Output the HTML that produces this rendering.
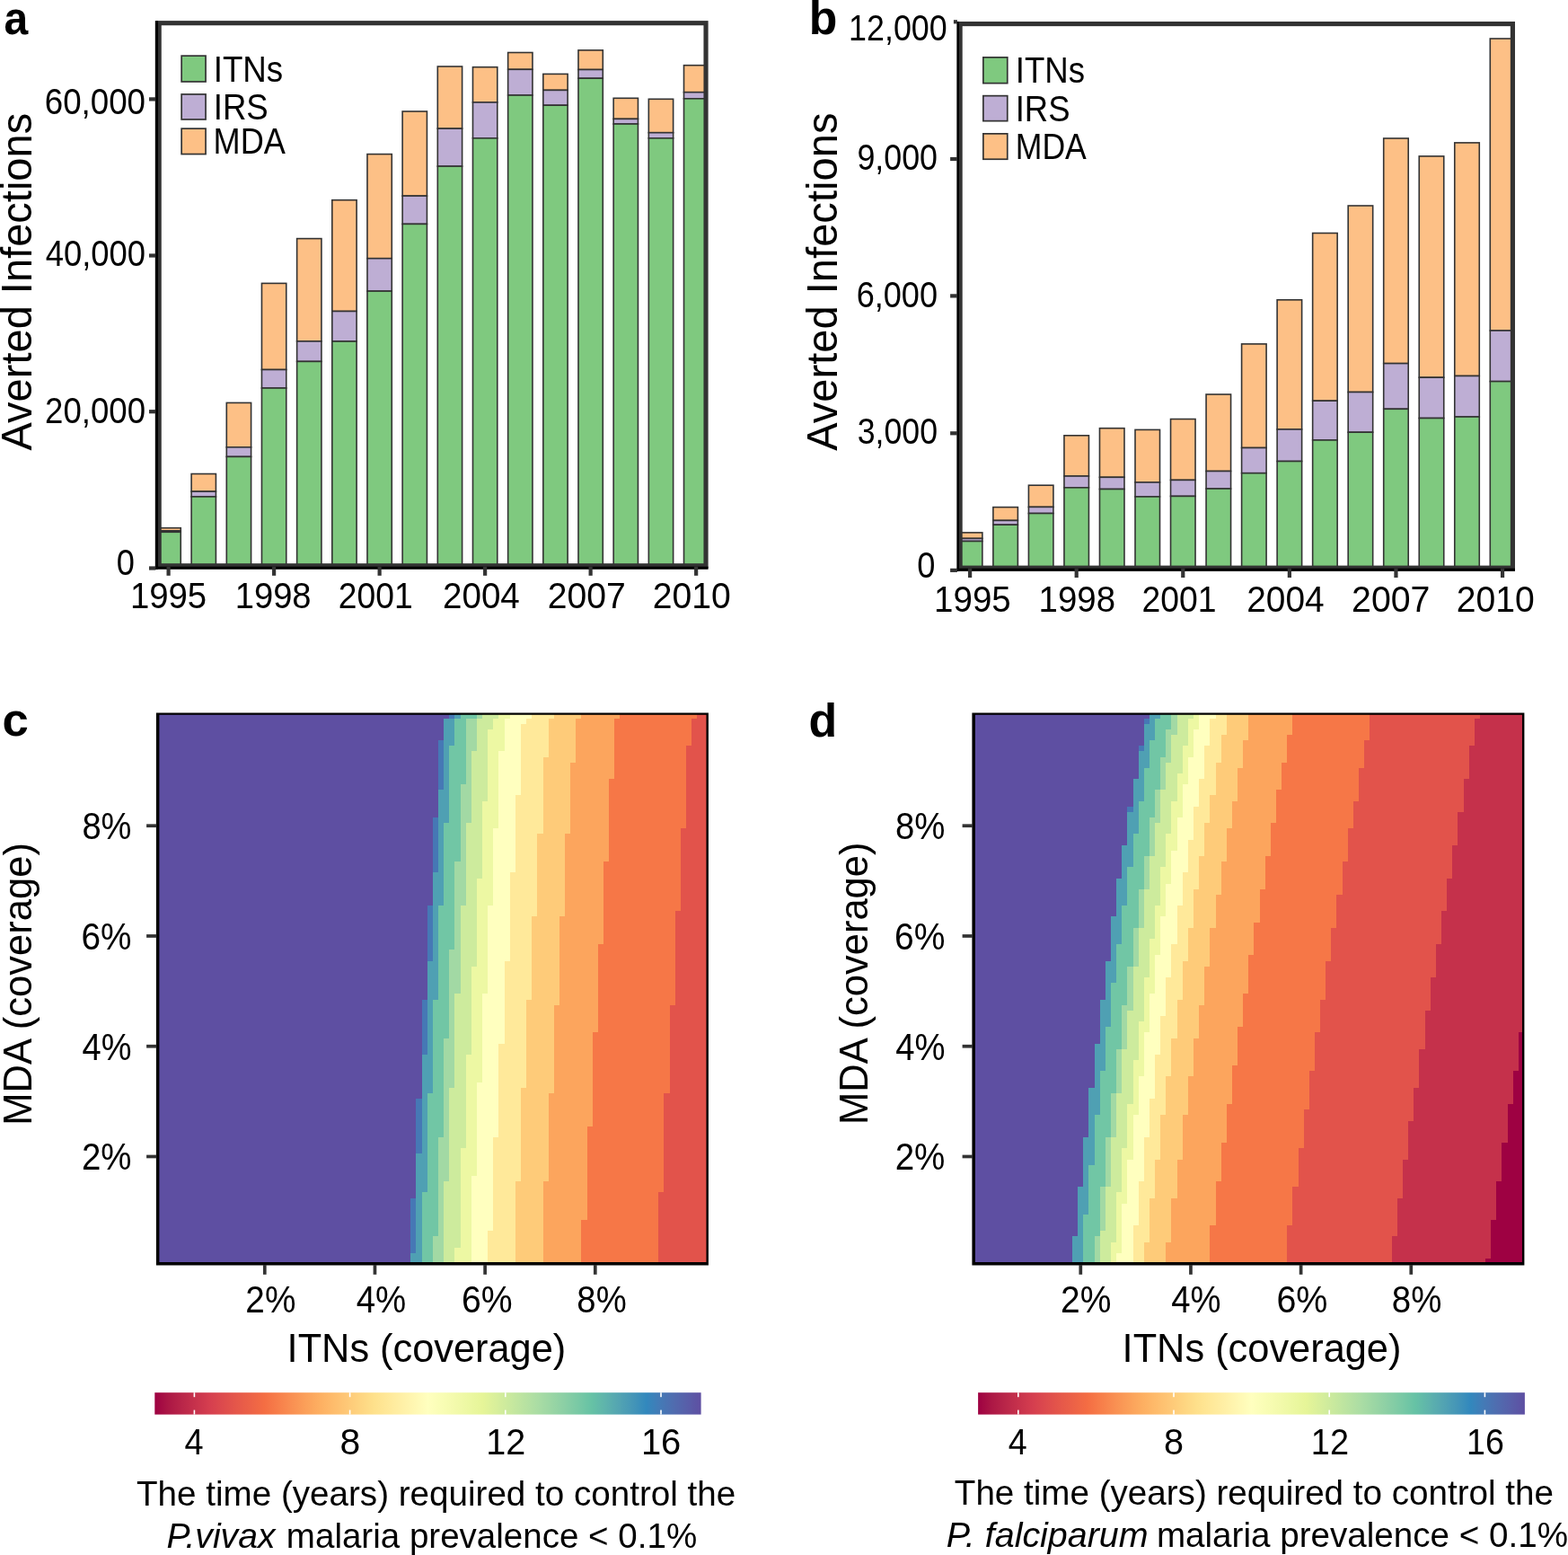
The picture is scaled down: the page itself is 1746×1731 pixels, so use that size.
<!DOCTYPE html>
<html lang="en"><head><meta charset="utf-8"><title>Figure</title>
<style>html,body{margin:0;padding:0;background:#fff}svg{display:block}text{white-space:pre}</style>
</head><body>
<svg width="1746" height="1731" viewBox="0 0 1746 1731" font-family='"Liberation Sans", sans-serif' fill="#000">
<rect width="1746" height="1731" fill="#fff"/>
<clipPath id="clipa"><rect x="177.18" y="25.68" width="608.85" height="604.1"/></clipPath>
<g clip-path="url(#clipa)" stroke="#333333" stroke-width="1.6">
<rect x="173.95" y="587.7" width="27.3" height="3.1" fill="#FDC086"/>
<rect x="173.95" y="590.8" width="27.3" height="1.5" fill="#BEAED4"/>
<rect x="173.95" y="592.3" width="27.3" height="40.1" fill="#7FC97F"/>
<rect x="213.12" y="527.5" width="27.3" height="19.6" fill="#FDC086"/>
<rect x="213.12" y="547.1" width="27.3" height="5.8" fill="#BEAED4"/>
<rect x="213.12" y="552.9" width="27.3" height="79.5" fill="#7FC97F"/>
<rect x="252.29" y="448.4" width="27.3" height="49.4" fill="#FDC086"/>
<rect x="252.29" y="497.8" width="27.3" height="10.6" fill="#BEAED4"/>
<rect x="252.29" y="508.4" width="27.3" height="124" fill="#7FC97F"/>
<rect x="291.46" y="315.4" width="27.3" height="96.1" fill="#FDC086"/>
<rect x="291.46" y="411.5" width="27.3" height="20.5" fill="#BEAED4"/>
<rect x="291.46" y="432" width="27.3" height="200.4" fill="#7FC97F"/>
<rect x="330.63" y="265.6" width="27.3" height="114.3" fill="#FDC086"/>
<rect x="330.63" y="379.9" width="27.3" height="22.5" fill="#BEAED4"/>
<rect x="330.63" y="402.4" width="27.3" height="230" fill="#7FC97F"/>
<rect x="369.8" y="222.7" width="27.3" height="123.8" fill="#FDC086"/>
<rect x="369.8" y="346.5" width="27.3" height="33.5" fill="#BEAED4"/>
<rect x="369.8" y="380" width="27.3" height="252.4" fill="#7FC97F"/>
<rect x="408.97" y="171.6" width="27.3" height="116.1" fill="#FDC086"/>
<rect x="408.97" y="287.7" width="27.3" height="36.4" fill="#BEAED4"/>
<rect x="408.97" y="324.1" width="27.3" height="308.3" fill="#7FC97F"/>
<rect x="448.14" y="124" width="27.3" height="94.1" fill="#FDC086"/>
<rect x="448.14" y="218.1" width="27.3" height="31.3" fill="#BEAED4"/>
<rect x="448.14" y="249.4" width="27.3" height="383" fill="#7FC97F"/>
<rect x="487.31" y="74" width="27.3" height="69.1" fill="#FDC086"/>
<rect x="487.31" y="143.1" width="27.3" height="42" fill="#BEAED4"/>
<rect x="487.31" y="185.1" width="27.3" height="447.3" fill="#7FC97F"/>
<rect x="526.48" y="74.7" width="27.3" height="39.2" fill="#FDC086"/>
<rect x="526.48" y="113.9" width="27.3" height="39.9" fill="#BEAED4"/>
<rect x="526.48" y="153.8" width="27.3" height="478.6" fill="#7FC97F"/>
<rect x="565.65" y="58.5" width="27.3" height="18.8" fill="#FDC086"/>
<rect x="565.65" y="77.3" width="27.3" height="28.7" fill="#BEAED4"/>
<rect x="565.65" y="106" width="27.3" height="526.4" fill="#7FC97F"/>
<rect x="604.82" y="82.4" width="27.3" height="18" fill="#FDC086"/>
<rect x="604.82" y="100.4" width="27.3" height="16.8" fill="#BEAED4"/>
<rect x="604.82" y="117.2" width="27.3" height="515.2" fill="#7FC97F"/>
<rect x="643.99" y="55.9" width="27.3" height="21.6" fill="#FDC086"/>
<rect x="643.99" y="77.5" width="27.3" height="9.7" fill="#BEAED4"/>
<rect x="643.99" y="87.2" width="27.3" height="545.2" fill="#7FC97F"/>
<rect x="683.16" y="109.3" width="27.3" height="23.1" fill="#FDC086"/>
<rect x="683.16" y="132.4" width="27.3" height="5.6" fill="#BEAED4"/>
<rect x="683.16" y="138" width="27.3" height="494.4" fill="#7FC97F"/>
<rect x="722.33" y="110.3" width="27.3" height="37.4" fill="#FDC086"/>
<rect x="722.33" y="147.7" width="27.3" height="6.1" fill="#BEAED4"/>
<rect x="722.33" y="153.8" width="27.3" height="478.6" fill="#7FC97F"/>
<rect x="761.5" y="72.7" width="27.3" height="30" fill="#FDC086"/>
<rect x="761.5" y="102.7" width="27.3" height="7.1" fill="#BEAED4"/>
<rect x="761.5" y="109.8" width="27.3" height="522.6" fill="#7FC97F"/>
</g>
<rect x="177.18" y="25.68" width="608.85" height="604.1" fill="none" stroke="#333333" stroke-width="5.15"/>
<rect x="172.8" y="23.1" width="3.2" height="610.7" fill="#000"/>
<rect x="172.8" y="630.7" width="615.8" height="3.1" fill="#000"/>
<rect x="185.5" y="630.7" width="4.2" height="10.1" fill="#333333"/>
<text transform="translate(144.92 677.4) scale(0.9537 1)" font-size="40.2">1995</text>
<rect x="303.01" y="630.7" width="4.2" height="10.1" fill="#333333"/>
<text transform="translate(261.74 677.4) scale(0.9489 1)" font-size="40.2">1998</text>
<rect x="420.52" y="630.7" width="4.2" height="10.1" fill="#333333"/>
<text transform="translate(376.74 677.4) scale(0.9271 1)" font-size="40.2">2001</text>
<rect x="538.03" y="630.7" width="4.2" height="10.1" fill="#333333"/>
<text transform="translate(492.97 677.4) scale(0.9602 1)" font-size="40.2">2004</text>
<rect x="655.54" y="630.7" width="4.2" height="10.1" fill="#333333"/>
<text transform="translate(609.84 677.4) scale(0.9739 1)" font-size="40.2">2007</text>
<rect x="773.05" y="630.7" width="4.2" height="10.1" fill="#333333"/>
<text transform="translate(726.64 677.4) scale(0.9741 1)" font-size="40.2">2010</text>
<rect x="166" y="630.4" width="7.4" height="4.2" fill="#333333"/>
<text transform="translate(129.85 640.4) scale(0.8730 1)" font-size="41.5">0</text>
<rect x="166" y="456.1" width="7.4" height="4.2" fill="#333333"/>
<text transform="translate(50.07 470.8) scale(0.8827 1)" font-size="41.5">20,000</text>
<rect x="166" y="282.4" width="7.4" height="4.2" fill="#333333"/>
<text transform="translate(50.73 296.4) scale(0.8774 1)" font-size="41.5">40,000</text>
<rect x="166" y="108.3" width="7.4" height="4.2" fill="#333333"/>
<text transform="translate(49.71 127.1) scale(0.8856 1)" font-size="41.5">60,000</text>
<text transform="translate(35.1 501.42) rotate(-90) scale(0.9760 1)" font-size="48.2">Averted Infections</text>
<rect x="202.15" y="62.15" width="26.9" height="28.8" fill="#7FC97F" stroke="#333333" stroke-width="1.7"/>
<text transform="translate(237.7 91) scale(0.9112 1)" font-size="40.3">ITNs</text>
<rect x="202.15" y="104.95" width="26.9" height="28" fill="#BEAED4" stroke="#333333" stroke-width="1.7"/>
<text transform="translate(237.71 133.25) scale(0.9081 1)" font-size="40.3">IRS</text>
<rect x="202.15" y="143.15" width="26.9" height="28.4" fill="#FDC086" stroke="#333333" stroke-width="1.7"/>
<text transform="translate(237.52 171.2) scale(0.8974 1)" font-size="40.3">MDA</text>
<text transform="translate(4.46 37.7) scale(0.9245 1)" font-size="52" font-weight="bold">a</text>
<clipPath id="clipb"><rect x="1069.12" y="26.57" width="615.3" height="605.6"/></clipPath>
<g clip-path="url(#clipb)" stroke="#333333" stroke-width="1.6">
<rect x="1066.35" y="592.9" width="27.5" height="6.5" fill="#FDC086"/>
<rect x="1066.35" y="599.4" width="27.5" height="3.1" fill="#BEAED4"/>
<rect x="1066.35" y="602.5" width="27.5" height="32" fill="#7FC97F"/>
<rect x="1105.88" y="564.6" width="27.5" height="14.8" fill="#FDC086"/>
<rect x="1105.88" y="579.4" width="27.5" height="4.8" fill="#BEAED4"/>
<rect x="1105.88" y="584.2" width="27.5" height="50.3" fill="#7FC97F"/>
<rect x="1145.41" y="540.2" width="27.5" height="24.2" fill="#FDC086"/>
<rect x="1145.41" y="564.4" width="27.5" height="7.1" fill="#BEAED4"/>
<rect x="1145.41" y="571.5" width="27.5" height="63" fill="#7FC97F"/>
<rect x="1184.94" y="484.8" width="27.5" height="45.2" fill="#FDC086"/>
<rect x="1184.94" y="530" width="27.5" height="12.8" fill="#BEAED4"/>
<rect x="1184.94" y="542.8" width="27.5" height="91.7" fill="#7FC97F"/>
<rect x="1224.47" y="476.7" width="27.5" height="54.6" fill="#FDC086"/>
<rect x="1224.47" y="531.3" width="27.5" height="13.2" fill="#BEAED4"/>
<rect x="1224.47" y="544.5" width="27.5" height="90" fill="#7FC97F"/>
<rect x="1264" y="478.4" width="27.5" height="58.5" fill="#FDC086"/>
<rect x="1264" y="536.9" width="27.5" height="16" fill="#BEAED4"/>
<rect x="1264" y="552.9" width="27.5" height="81.6" fill="#7FC97F"/>
<rect x="1303.53" y="466.5" width="27.5" height="67.9" fill="#FDC086"/>
<rect x="1303.53" y="534.4" width="27.5" height="18" fill="#BEAED4"/>
<rect x="1303.53" y="552.4" width="27.5" height="82.1" fill="#7FC97F"/>
<rect x="1343.06" y="439" width="27.5" height="85.5" fill="#FDC086"/>
<rect x="1343.06" y="524.5" width="27.5" height="19.5" fill="#BEAED4"/>
<rect x="1343.06" y="544" width="27.5" height="90.5" fill="#7FC97F"/>
<rect x="1382.59" y="382.9" width="27.5" height="115.6" fill="#FDC086"/>
<rect x="1382.59" y="498.5" width="27.5" height="28.2" fill="#BEAED4"/>
<rect x="1382.59" y="526.7" width="27.5" height="107.8" fill="#7FC97F"/>
<rect x="1422.12" y="333.8" width="27.5" height="144.1" fill="#FDC086"/>
<rect x="1422.12" y="477.9" width="27.5" height="35.6" fill="#BEAED4"/>
<rect x="1422.12" y="513.5" width="27.5" height="121" fill="#7FC97F"/>
<rect x="1461.65" y="259.5" width="27.5" height="186.7" fill="#FDC086"/>
<rect x="1461.65" y="446.2" width="27.5" height="43.7" fill="#BEAED4"/>
<rect x="1461.65" y="489.9" width="27.5" height="144.6" fill="#7FC97F"/>
<rect x="1501.18" y="229" width="27.5" height="207.5" fill="#FDC086"/>
<rect x="1501.18" y="436.5" width="27.5" height="44.7" fill="#BEAED4"/>
<rect x="1501.18" y="481.2" width="27.5" height="153.3" fill="#7FC97F"/>
<rect x="1540.71" y="154" width="27.5" height="250.6" fill="#FDC086"/>
<rect x="1540.71" y="404.6" width="27.5" height="50.7" fill="#BEAED4"/>
<rect x="1540.71" y="455.3" width="27.5" height="179.2" fill="#7FC97F"/>
<rect x="1580.24" y="173.9" width="27.5" height="246.3" fill="#FDC086"/>
<rect x="1580.24" y="420.2" width="27.5" height="45.3" fill="#BEAED4"/>
<rect x="1580.24" y="465.5" width="27.5" height="169" fill="#7FC97F"/>
<rect x="1619.77" y="158.9" width="27.5" height="259.6" fill="#FDC086"/>
<rect x="1619.77" y="418.5" width="27.5" height="45.5" fill="#BEAED4"/>
<rect x="1619.77" y="464" width="27.5" height="170.5" fill="#7FC97F"/>
<rect x="1659.3" y="43" width="27.5" height="325" fill="#FDC086"/>
<rect x="1659.3" y="368" width="27.5" height="56.6" fill="#BEAED4"/>
<rect x="1659.3" y="424.6" width="27.5" height="209.9" fill="#7FC97F"/>
</g>
<rect x="1069.12" y="26.57" width="615.3" height="605.6" fill="none" stroke="#333333" stroke-width="5.15"/>
<rect x="1065.35" y="24" width="2.6" height="611.9" fill="#000"/>
<rect x="1065.35" y="632.7" width="621.65" height="3.2" fill="#000"/>
<rect x="1078" y="632.7" width="4.2" height="10.3" fill="#333333"/>
<text transform="translate(1040.11 680.6) scale(0.9573 1)" font-size="40.2">1995</text>
<rect x="1196.59" y="632.7" width="4.2" height="10.3" fill="#333333"/>
<text transform="translate(1156.62 680.6) scale(0.9548 1)" font-size="40.2">1998</text>
<rect x="1315.18" y="632.7" width="4.2" height="10.3" fill="#333333"/>
<text transform="translate(1271.53 680.6) scale(0.9283 1)" font-size="40.2">2001</text>
<rect x="1433.77" y="632.7" width="4.2" height="10.3" fill="#333333"/>
<text transform="translate(1388.26 680.6) scale(0.9660 1)" font-size="40.2">2004</text>
<rect x="1552.36" y="632.7" width="4.2" height="10.3" fill="#333333"/>
<text transform="translate(1505.04 680.6) scale(0.9774 1)" font-size="40.2">2007</text>
<rect x="1670.95" y="632.7" width="4.2" height="10.3" fill="#333333"/>
<text transform="translate(1621.64 680.6) scale(0.9741 1)" font-size="40.2">2010</text>
<rect x="1058.1" y="632.75" width="7.85" height="4.2" fill="#333333"/>
<text transform="translate(1021.15 642.6) scale(0.8730 1)" font-size="41.5">0</text>
<rect x="1058.1" y="480.2" width="7.85" height="4.2" fill="#333333"/>
<text transform="translate(954.76 494.4) scale(0.8596 1)" font-size="41.5">3,000</text>
<rect x="1058.1" y="327.3" width="7.85" height="4.2" fill="#333333"/>
<text transform="translate(953.69 341.8) scale(0.8701 1)" font-size="41.5">6,000</text>
<rect x="1058.1" y="174.9" width="7.85" height="4.2" fill="#333333"/>
<text transform="translate(954.4 189.2) scale(0.8632 1)" font-size="41.5">9,000</text>
<rect x="1061.9" y="22.2" width="4.05" height="4.2" fill="#333333"/>
<text transform="translate(945.11 45) scale(0.8632 1)" font-size="41.5">12,000</text>
<text transform="translate(931.8 501.82) rotate(-90) scale(0.9776 1)" font-size="48.2">Averted Infections</text>
<rect x="1094.85" y="63.85" width="26.9" height="28.8" fill="#7FC97F" stroke="#333333" stroke-width="1.7"/>
<text transform="translate(1130.71 92.1) scale(0.9093 1)" font-size="40.3">ITNs</text>
<rect x="1094.85" y="106.65" width="26.9" height="28" fill="#BEAED4" stroke="#333333" stroke-width="1.7"/>
<text transform="translate(1130.72 135) scale(0.9056 1)" font-size="40.3">IRS</text>
<rect x="1094.85" y="148.85" width="26.9" height="28.4" fill="#FDC086" stroke="#333333" stroke-width="1.7"/>
<text transform="translate(1130.76 177.3) scale(0.8834 1)" font-size="40.3">MDA</text>
<text transform="translate(900.74 37.7) scale(0.9939 1)" font-size="52" font-weight="bold">b</text>
<g shape-rendering="crispEdges">
<rect x="174.9" y="794.5" width="613" height="613" fill="#5E4FA2"/>
<path d="M787.9 1407.5H457.32V1333.5H463.45V1223.03H469.58V1112.55H475.72V1008.21H481.85V910.01H487.98V824.09H494.12V799.54H500.25V794.5H787.9Z" fill="#4678B5"/>
<path d="M787.9 1407.5H457.32V1394.88H463.45V1284.4H469.58V1173.92H475.72V1069.59H481.85V971.39H487.98V879.33H494.12V799.54H506.38V794.5H787.9Z" fill="#4FA0B3"/>
<path d="M787.9 1407.5H469.58V1327.36H475.72V1216.89H481.85V1112.55H487.98V1008.21H494.12V916.15H500.25V830.23H506.38V799.54H512.51V794.5H787.9Z" fill="#71C6A5"/>
<path d="M787.9 1407.5H481.85V1376.46H487.98V1265.99H494.12V1155.51H500.25V1057.31H506.38V959.11H512.51V873.19H518.65V799.54H530.91V794.5H787.9Z" fill="#A2D9A4"/>
<path d="M787.9 1407.5H494.12V1315.09H500.25V1210.75H506.38V1106.41H512.51V1008.21H518.65V916.15H524.78V836.36H530.91V799.54H537.05V794.5H787.9Z" fill="#CDEB9D"/>
<path d="M787.9 1407.5H506.38V1388.74H512.51V1278.26H518.65V1173.92H524.78V1075.72H530.91V977.53H537.05V891.6H543.18V811.81H549.31V799.54H555.45V794.5H787.9Z" fill="#EDF8A3"/>
<path d="M787.9 1407.5H524.78V1308.95H530.91V1204.61H537.05V1106.41H543.18V1008.21H549.31V922.29H555.45V836.36H561.58V799.54H567.71V794.5H787.9Z" fill="#FFFFBF"/>
<path d="M787.9 1407.5H543.18V1370.33H549.31V1265.99H555.45V1161.65H561.58V1069.59H567.71V971.39H573.84V885.46H579.98V805.67H586.11V799.54H592.24V794.5H787.9Z" fill="#FFE99A"/>
<path d="M787.9 1407.5H573.84V1315.09H579.98V1210.75H586.11V1112.55H592.24V1020.49H598.38V928.42H604.51V842.5H610.64V799.54H616.78V794.5H787.9Z" fill="#FECB79"/>
<path d="M787.9 1407.5H604.51V1315.09H610.64V1216.89H616.78V1118.69H622.91V1020.49H629.04V928.42H635.17V848.64H641.31V799.54H647.44V794.5H787.9Z" fill="#FCA55D"/>
<path d="M787.9 1407.5H647.44V1358.05H653.57V1253.71H659.71V1149.38H665.84V1051.17H671.97V959.11H678.11V867.05H684.24V799.54H690.37V794.5H787.9Z" fill="#F67747"/>
<path d="M787.9 1407.5H733.3V1327.36H739.44V1216.89H745.57V1118.69H751.7V1014.35H757.83V922.29H763.97V830.23H770.1V799.54H776.23V794.5H787.9Z" fill="#E2534B"/>
</g>
<path fill-rule="evenodd" fill="#000" d="M173.9 793.5H788.9V1408.5H173.9Z M177.4 795.8V1405H786.45V795.8Z"/>
<rect x="292.94" y="1408" width="3.7" height="10.8" fill="#333333"/>
<text transform="translate(273.36 1460.6) scale(0.9117 1)" font-size="42.5">2%</text>
<rect x="163.1" y="1285.62" width="11.3" height="3.7" fill="#333333"/>
<text transform="translate(90.88 1302.27) scale(0.9048 1)" font-size="42.5">2%</text>
<rect x="415.6" y="1408" width="3.7" height="10.8" fill="#333333"/>
<text transform="translate(396.74 1460.6) scale(0.9030 1)" font-size="42.5">4%</text>
<rect x="163.1" y="1162.87" width="11.3" height="3.7" fill="#333333"/>
<text transform="translate(91.55 1179.52) scale(0.8936 1)" font-size="42.5">4%</text>
<rect x="538.26" y="1408" width="3.7" height="10.8" fill="#333333"/>
<text transform="translate(514.04 1460.6) scale(0.9221 1)" font-size="42.5">6%</text>
<rect x="163.1" y="1040.12" width="11.3" height="3.7" fill="#333333"/>
<text transform="translate(90.46 1056.77) scale(0.9117 1)" font-size="42.5">6%</text>
<rect x="660.92" y="1408" width="3.7" height="10.8" fill="#333333"/>
<text transform="translate(642.37 1460.6) scale(0.8998 1)" font-size="42.5">8%</text>
<rect x="163.1" y="917.37" width="11.3" height="3.7" fill="#333333"/>
<text transform="translate(91.38 934.02) scale(0.8964 1)" font-size="42.5">8%</text>
<text transform="translate(319.59 1516.2) scale(0.9898 1)" font-size="43.8">ITNs (coverage)</text>
<text transform="translate(35.4 1252.69) rotate(-90) scale(0.9948 1)" font-size="43.8">MDA (coverage)</text>
<text transform="translate(2.49 818.9) scale(1.0138 1)" font-size="52" font-weight="bold">c</text>
<linearGradient id="gradc" x1="0" x2="1" y1="0" y2="0"><stop offset="0%" stop-color="#9E0142"/><stop offset="2.5%" stop-color="#AC1745"/><stop offset="5%" stop-color="#B92649"/><stop offset="7.5%" stop-color="#C7324C"/><stop offset="10%" stop-color="#D53E4F"/><stop offset="12.5%" stop-color="#DD4B4D"/><stop offset="15%" stop-color="#E5574A"/><stop offset="17.5%" stop-color="#EC6247"/><stop offset="20%" stop-color="#F46D43"/><stop offset="22.5%" stop-color="#F77E4A"/><stop offset="25%" stop-color="#F98F52"/><stop offset="27.5%" stop-color="#FB9F59"/><stop offset="30%" stop-color="#FDAE61"/><stop offset="32.5%" stop-color="#FEBB6B"/><stop offset="35%" stop-color="#FEC776"/><stop offset="37.5%" stop-color="#FED480"/><stop offset="40%" stop-color="#FEE08B"/><stop offset="42.5%" stop-color="#FFE898"/><stop offset="45%" stop-color="#FFEFA5"/><stop offset="47.5%" stop-color="#FFF7B2"/><stop offset="50%" stop-color="#FFFFBF"/><stop offset="52.5%" stop-color="#F9FDB5"/><stop offset="55%" stop-color="#F3FAAC"/><stop offset="57.5%" stop-color="#ECF8A2"/><stop offset="60%" stop-color="#E6F598"/><stop offset="62.5%" stop-color="#D8EF9B"/><stop offset="65%" stop-color="#C9E99E"/><stop offset="67.5%" stop-color="#BAE3A1"/><stop offset="70%" stop-color="#ABDDA4"/><stop offset="72.5%" stop-color="#9BD6A4"/><stop offset="75%" stop-color="#8BCFA5"/><stop offset="77.5%" stop-color="#79C9A5"/><stop offset="80%" stop-color="#66C2A5"/><stop offset="82.5%" stop-color="#5EB3AC"/><stop offset="85%" stop-color="#53A4B2"/><stop offset="87.5%" stop-color="#4596B7"/><stop offset="90%" stop-color="#3288BD"/><stop offset="92.5%" stop-color="#447AB6"/><stop offset="95%" stop-color="#506CAF"/><stop offset="97.5%" stop-color="#585EA9"/><stop offset="100%" stop-color="#5E4FA2"/></linearGradient>
<rect x="172.3" y="1550.2" width="608.3" height="24.4" fill="url(#gradc)"/>
<rect x="215.6" y="1550.2" width="1.6" height="5" fill="#fff"/>
<rect x="215.6" y="1569.6" width="1.6" height="5" fill="#fff"/>
<text transform="translate(205.5 1618.5) scale(0.9480 1)" font-size="40">4</text>
<rect x="388.8" y="1550.2" width="1.6" height="5" fill="#fff"/>
<rect x="388.8" y="1569.6" width="1.6" height="5" fill="#fff"/>
<text transform="translate(378.46 1618.5) scale(1.0213 1)" font-size="40">8</text>
<rect x="562" y="1550.2" width="1.6" height="5" fill="#fff"/>
<rect x="562" y="1569.6" width="1.6" height="5" fill="#fff"/>
<text transform="translate(541.33 1618.5) scale(0.9898 1)" font-size="40">12</text>
<rect x="735.2" y="1550.2" width="1.6" height="5" fill="#fff"/>
<rect x="735.2" y="1569.6" width="1.6" height="5" fill="#fff"/>
<text transform="translate(713.91 1618.5) scale(0.9975 1)" font-size="40">16</text>
<text transform="translate(152.03 1676) scale(1.0002 1)" font-size="38.6">The time (years) required to control the</text>
<text transform="translate(185.43 1722.8) scale(1.0137 1)" font-size="38.6" font-style="italic">P.vivax</text>
<text transform="translate(318.85 1722.8) scale(0.9985 1)" font-size="38.6">malaria prevalence &lt; 0.1%</text>
<g shape-rendering="crispEdges">
<rect x="1083.4" y="794.5" width="613" height="613" fill="#5E4FA2"/>
<path d="M1696.4 1407.5H1194.09V1376.46H1200.23V1321.23H1206.36V1265.99H1212.49V1210.75H1218.63V1161.65H1224.76V1112.55H1230.89V1069.59H1237.03V1020.49H1243.16V977.53H1249.29V940.7H1255.42V897.74H1261.56V867.05H1267.69V830.23H1273.82V799.54H1279.96V794.5H1696.4Z" fill="#4678B5"/>
<path d="M1696.4 1407.5H1194.09V1376.46H1200.23V1321.23H1206.36V1265.99H1212.49V1210.75H1218.63V1161.65H1224.76V1112.55H1230.89V1069.59H1237.03V1020.49H1243.16V977.53H1249.29V940.7H1255.42V903.88H1261.56V867.05H1267.69V836.36H1273.82V805.67H1279.96V794.5H1696.4Z" fill="#4FA0B3"/>
<path d="M1696.4 1407.5H1206.36V1351.91H1212.49V1296.68H1218.63V1241.44H1224.76V1192.34H1230.89V1143.24H1237.03V1094.14H1243.16V1051.17H1249.29V1008.21H1255.42V965.25H1261.56V928.42H1267.69V891.6H1273.82V854.77H1279.96V824.09H1286.09V799.54H1292.22V794.5H1696.4Z" fill="#71C6A5"/>
<path d="M1696.4 1407.5H1218.63V1376.46H1224.76V1321.23H1230.89V1265.99H1237.03V1216.89H1243.16V1167.79H1249.29V1118.69H1255.42V1075.72H1261.56V1032.76H1267.69V989.8H1273.82V952.98H1279.96V910.01H1286.09V879.33H1292.22V842.5H1298.36V811.81H1304.49V794.5H1696.4Z" fill="#A2D9A4"/>
<path d="M1696.4 1407.5H1224.76V1370.33H1230.89V1321.23H1237.03V1265.99H1243.16V1216.89H1249.29V1167.79H1255.42V1124.83H1261.56V1075.72H1267.69V1032.76H1273.82V989.8H1279.96V952.98H1286.09V916.15H1292.22V879.33H1298.36V848.64H1304.49V817.95H1310.62V794.5H1696.4Z" fill="#CDEB9D"/>
<path d="M1696.4 1407.5H1237.03V1382.6H1243.16V1327.36H1249.29V1278.26H1255.42V1229.16H1261.56V1180.06H1267.69V1137.1H1273.82V1088H1279.96V1045.04H1286.09V1008.21H1292.22V965.25H1298.36V928.42H1304.49V891.6H1310.62V860.91H1316.75V830.23H1322.89V799.54H1329.02V794.5H1696.4Z" fill="#EDF8A3"/>
<path d="M1696.4 1407.5H1243.16V1394.88H1249.29V1339.64H1255.42V1290.54H1261.56V1241.44H1267.69V1198.48H1273.82V1149.38H1279.96V1106.41H1286.09V1063.45H1292.22V1020.49H1298.36V983.66H1304.49V946.84H1310.62V910.01H1316.75V873.19H1322.89V842.5H1329.02V811.81H1335.15V794.5H1696.4Z" fill="#FFFFBF"/>
<path d="M1696.4 1407.5H1261.56V1364.19H1267.69V1315.09H1273.82V1265.99H1279.96V1223.03H1286.09V1173.92H1292.22V1130.96H1298.36V1088H1304.49V1051.17H1310.62V1008.21H1316.75V971.39H1322.89V934.56H1329.02V897.74H1335.15V867.05H1341.29V830.23H1347.42V799.54H1353.55V794.5H1696.4Z" fill="#FFE99A"/>
<path d="M1696.4 1407.5H1273.82V1382.6H1279.96V1333.5H1286.09V1290.54H1292.22V1241.44H1298.36V1198.48H1304.49V1155.51H1310.62V1112.55H1316.75V1069.59H1322.89V1032.76H1329.02V989.8H1335.15V952.98H1341.29V916.15H1347.42V885.46H1353.55V848.64H1359.68V817.95H1365.82V794.5H1696.4Z" fill="#FECB79"/>
<path d="M1696.4 1407.5H1298.36V1382.6H1304.49V1333.5H1310.62V1290.54H1316.75V1241.44H1322.89V1198.48H1329.02V1155.51H1335.15V1118.69H1341.29V1075.72H1347.42V1032.76H1353.55V995.94H1359.68V959.11H1365.82V922.29H1371.95V891.6H1378.08V854.77H1384.22V824.09H1390.35V794.5H1696.4Z" fill="#FCA55D"/>
<path d="M1696.4 1407.5H1347.42V1364.19H1353.55V1315.09H1359.68V1272.12H1365.82V1229.16H1371.95V1186.2H1378.08V1143.24H1384.22V1106.41H1390.35V1063.45H1396.48V1026.62H1402.62V989.8H1408.75V952.98H1414.88V916.15H1421.01V879.33H1427.15V848.64H1433.28V817.95H1439.41V794.5H1696.4Z" fill="#F67747"/>
<path d="M1696.4 1407.5H1433.28V1364.19H1439.41V1321.23H1445.55V1278.26H1451.68V1235.3H1457.81V1192.34H1463.95V1149.38H1470.08V1112.55H1476.21V1069.59H1482.35V1032.76H1488.48V995.94H1494.61V959.11H1500.74V922.29H1506.88V891.6H1513.01V854.77H1519.14V824.09H1525.28V794.5H1696.4Z" fill="#E2534B"/>
<path d="M1696.4 1407.5H1549.81V1376.46H1555.94V1333.5H1562.07V1290.54H1568.21V1247.58H1574.34V1210.75H1580.47V1167.79H1586.61V1124.83H1592.74V1088H1598.87V1051.17H1605.01V1014.35H1611.14V977.53H1617.27V940.7H1623.4V903.88H1629.54V867.05H1635.67V830.23H1641.8V799.54H1647.94V794.5H1696.4Z" fill="#C5314B"/>
<path d="M1696.4 1407.5H1654.07V1401.01H1660.2V1358.05H1666.34V1315.09H1672.47V1272.12H1678.6V1229.16H1684.73V1192.34H1690.87V1149.38H1696.4V794.5H1696.4Z" fill="#9E0142"/>
</g>
<path fill-rule="evenodd" fill="#000" d="M1082.4 793.5H1697.4V1408.5H1082.4Z M1085.9 795.8V1405H1694.95V795.8Z"/>
<rect x="1201.44" y="1408" width="3.7" height="10.8" fill="#333333"/>
<text transform="translate(1181 1460.6) scale(0.9178 1)" font-size="42.5">2%</text>
<rect x="1071.6" y="1285.62" width="11.3" height="3.7" fill="#333333"/>
<text transform="translate(996.67 1302.27) scale(0.9074 1)" font-size="42.5">2%</text>
<rect x="1324.1" y="1408" width="3.7" height="10.8" fill="#333333"/>
<text transform="translate(1304.34 1460.6) scale(0.9004 1)" font-size="42.5">4%</text>
<rect x="1071.6" y="1162.87" width="11.3" height="3.7" fill="#333333"/>
<text transform="translate(997.14 1179.52) scale(0.8996 1)" font-size="42.5">4%</text>
<rect x="1446.76" y="1408" width="3.7" height="10.8" fill="#333333"/>
<text transform="translate(1421.43 1460.6) scale(0.9273 1)" font-size="42.5">6%</text>
<rect x="1071.6" y="1040.12" width="11.3" height="3.7" fill="#333333"/>
<text transform="translate(996.05 1056.77) scale(0.9178 1)" font-size="42.5">6%</text>
<rect x="1569.42" y="1408" width="3.7" height="10.8" fill="#333333"/>
<text transform="translate(1549.87 1460.6) scale(0.9033 1)" font-size="42.5">8%</text>
<rect x="1071.6" y="917.37" width="11.3" height="3.7" fill="#333333"/>
<text transform="translate(996.97 934.02) scale(0.9024 1)" font-size="42.5">8%</text>
<text transform="translate(1249.59 1516.2) scale(0.9901 1)" font-size="43.8">ITNs (coverage)</text>
<text transform="translate(965.9 1251.99) rotate(-90) scale(0.9945 1)" font-size="43.8">MDA (coverage)</text>
<text transform="translate(900.62 819.5) scale(0.9977 1)" font-size="52" font-weight="bold">d</text>
<linearGradient id="gradd" x1="0" x2="1" y1="0" y2="0"><stop offset="0%" stop-color="#9E0142"/><stop offset="2.5%" stop-color="#AC1745"/><stop offset="5%" stop-color="#B92649"/><stop offset="7.5%" stop-color="#C7324C"/><stop offset="10%" stop-color="#D53E4F"/><stop offset="12.5%" stop-color="#DD4B4D"/><stop offset="15%" stop-color="#E5574A"/><stop offset="17.5%" stop-color="#EC6247"/><stop offset="20%" stop-color="#F46D43"/><stop offset="22.5%" stop-color="#F77E4A"/><stop offset="25%" stop-color="#F98F52"/><stop offset="27.5%" stop-color="#FB9F59"/><stop offset="30%" stop-color="#FDAE61"/><stop offset="32.5%" stop-color="#FEBB6B"/><stop offset="35%" stop-color="#FEC776"/><stop offset="37.5%" stop-color="#FED480"/><stop offset="40%" stop-color="#FEE08B"/><stop offset="42.5%" stop-color="#FFE898"/><stop offset="45%" stop-color="#FFEFA5"/><stop offset="47.5%" stop-color="#FFF7B2"/><stop offset="50%" stop-color="#FFFFBF"/><stop offset="52.5%" stop-color="#F9FDB5"/><stop offset="55%" stop-color="#F3FAAC"/><stop offset="57.5%" stop-color="#ECF8A2"/><stop offset="60%" stop-color="#E6F598"/><stop offset="62.5%" stop-color="#D8EF9B"/><stop offset="65%" stop-color="#C9E99E"/><stop offset="67.5%" stop-color="#BAE3A1"/><stop offset="70%" stop-color="#ABDDA4"/><stop offset="72.5%" stop-color="#9BD6A4"/><stop offset="75%" stop-color="#8BCFA5"/><stop offset="77.5%" stop-color="#79C9A5"/><stop offset="80%" stop-color="#66C2A5"/><stop offset="82.5%" stop-color="#5EB3AC"/><stop offset="85%" stop-color="#53A4B2"/><stop offset="87.5%" stop-color="#4596B7"/><stop offset="90%" stop-color="#3288BD"/><stop offset="92.5%" stop-color="#447AB6"/><stop offset="95%" stop-color="#506CAF"/><stop offset="97.5%" stop-color="#585EA9"/><stop offset="100%" stop-color="#5E4FA2"/></linearGradient>
<rect x="1089.1" y="1550.2" width="608.8" height="24.4" fill="url(#gradd)"/>
<rect x="1133" y="1550.2" width="1.6" height="5" fill="#fff"/>
<rect x="1133" y="1569.6" width="1.6" height="5" fill="#fff"/>
<text transform="translate(1122.65 1618.5) scale(0.9406 1)" font-size="40">4</text>
<rect x="1306.2" y="1550.2" width="1.6" height="5" fill="#fff"/>
<rect x="1306.2" y="1569.6" width="1.6" height="5" fill="#fff"/>
<text transform="translate(1296.02 1618.5) scale(0.9894 1)" font-size="40">8</text>
<rect x="1479.4" y="1550.2" width="1.6" height="5" fill="#fff"/>
<rect x="1479.4" y="1569.6" width="1.6" height="5" fill="#fff"/>
<text transform="translate(1459.86 1618.5) scale(0.9467 1)" font-size="40">12</text>
<rect x="1652.6" y="1550.2" width="1.6" height="5" fill="#fff"/>
<rect x="1652.6" y="1569.6" width="1.6" height="5" fill="#fff"/>
<text transform="translate(1633.08 1618.5) scale(0.9395 1)" font-size="40">16</text>
<text transform="translate(1062.83 1675.4) scale(0.9999 1)" font-size="38.6">The time (years) required to control the</text>
<text transform="translate(1053.67 1722.2) scale(1.0209 1)" font-size="38.6" font-style="italic">P. falciparum</text>
<text transform="translate(1287.89 1722.2) scale(1.0004 1)" font-size="38.6">malaria prevalence &lt; 0.1%</text>
</svg>
</body></html>
